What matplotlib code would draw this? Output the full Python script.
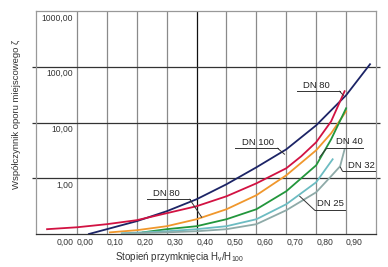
import matplotlib
matplotlib.use("Agg")
import matplotlib.pyplot as plt
import matplotlib.transforms as mtransforms

plt.rcParams['font.family'] = ['Liberation Sans', 'DejaVu Sans']
plt.rcParams['mathtext.default'] = 'regular'

# ---- data ----
dn100_x = [0.04, 0.10, 0.20, 0.30, 0.40, 0.50, 0.60, 0.70, 0.80, 0.90, 0.98]
dn100_y = [0.10, 0.122, 0.17, 0.256, 0.42, 0.78, 1.57, 3.3, 8.9, 30.8, 111]

dn80_x = [-0.10, 0.0, 0.10, 0.20, 0.30, 0.40, 0.50, 0.60, 0.70, 0.75, 0.80, 0.85, 0.895]
dn80_y = [0.122, 0.132, 0.150, 0.177, 0.236, 0.315, 0.475, 0.81, 1.51, 2.48, 4.43, 10.5, 36.4]

dn50_x = [0.11, 0.20, 0.30, 0.40, 0.50, 0.60, 0.70, 0.80, 0.85, 0.90]
dn50_y = [0.107, 0.117, 0.138, 0.184, 0.278, 0.496, 1.13, 3.18, 6.41, 15.9]

dn40_x = [0.22, 0.30, 0.40, 0.50, 0.60, 0.70, 0.80, 0.85, 0.90]
dn40_y = [0.107, 0.122, 0.138, 0.184, 0.278, 0.585, 1.71, 5.0, 18.0]

dn25_x = [0.15, 0.30, 0.40, 0.50, 0.60, 0.70, 0.80, 0.855]
dn25_y = [0.103, 0.112, 0.122, 0.138, 0.184, 0.342, 0.848, 2.19]

dn32_x = [0.15, 0.30, 0.40, 0.50, 0.60, 0.70, 0.80, 0.85, 0.88, 0.895]
dn32_y = [0.101, 0.107, 0.112, 0.122, 0.150, 0.267, 0.561, 1.09, 1.64, 3.31]

x_tick_pos = [-0.067, 0.0, 0.1, 0.2, 0.3, 0.4, 0.5, 0.6, 0.7, 0.8, 0.9]
x_tick_labels = ["0,00", "0,00", "0,10", "0,20", "0,30", "0,40", "0,50",
                 "0,60", "0,70", "0,80", "0,90"]
y_grid = [1, 10, 100]
y_label_vals = [1, 10, 100, 1000]
y_labels = ["1,00", "10,00", "100,00", "1000,00"]

# annotations: label, text pos, underline (x0, x1, y), leader end, leader side
annots = [
    ("DN 80", (0.801, 45.6), (0.735, 0.878, 36.4), (0.891, 30.8), 'r'),
    ("DN 100", (0.604, 4.43), (0.528, 0.671, 3.45), (0.694, 2.70), 'r'),
    ("DN 40", (0.912, 4.52), (0.835, 0.955, 3.45), (0.811, 2.38), 'l'),
    ("DN 32", (0.952, 1.71), (0.888, 0.998, 1.335), (0.881, 1.575), 'l'),
    ("DN 25", (0.848, 0.356), (0.795, 0.898, 0.267), (0.745, 0.475), 'l'),
    ("DN 80", (0.300, 0.538), (0.234, 0.377, 0.42), (0.417, 0.20), 'r'),
]

fig = plt.figure(figsize=(3.88, 2.67), dpi=100)
ax = fig.add_axes([36/388, 1 - 234/267, 340/388, 223/267])
ax.set_yscale('log')
ax.set_xlim(-0.137, 1.0)
ax.set_ylim(0.1, 1000)

# grid
for gx in [0.0, 0.1, 0.2, 0.3, 0.4, 0.5, 0.6, 0.7, 0.8, 0.9]:
    col = '#111111' if abs(gx - 0.4) < 1e-9 else '#8a8a8a'
    ax.axvline(gx, color=col, lw=0.9, zorder=1)
for gy in y_grid:
    ax.axhline(gy, color='#333333', lw=0.9, zorder=1)

lw = 1.3
ax.plot(dn100_x, dn100_y, color='#1c2466', lw=lw, zorder=3)
ax.plot(dn80_x, dn80_y, color='#d21242', lw=lw, zorder=3)
ax.plot(dn50_x, dn50_y, color='#f0972c', lw=lw, zorder=3)
ax.plot(dn40_x, dn40_y, color='#22963c', lw=lw, zorder=3)
ax.plot(dn25_x, dn25_y, color='#6cbcc2', lw=lw, zorder=3)
ax.plot(dn32_x, dn32_y, color='#8eaaa8', lw=lw, zorder=3)

# annotations
for lab, tpos, ul, lend, side in annots:
    ax.text(tpos[0], tpos[1], lab, ha='center', va='center', fontsize=6.8,
            color='#222222', zorder=5)
    ax.plot([ul[0], ul[1]], [ul[2], ul[2]], color='#333333', lw=0.7, zorder=4)
    start = ul[1] if side == 'r' else ul[0]
    ax.plot([start, lend[0]], [ul[2], lend[1]], color='#333333', lw=0.7, zorder=4)

# y labels inside plot
off = mtransforms.offset_copy(ax.transData, fig=fig, x=0, y=-7, units='dots')
for v, s in zip(y_label_vals, y_labels):
    ax.text(-0.012, v, s, ha='right', va='center', fontsize=6.2,
            color='#333333', transform=off)

# ticks
ax.set_xticks(x_tick_pos, x_tick_labels)
ax.tick_params(axis='x', length=0, pad=3, labelsize=6.2, labelcolor='#333333')
for t in ax.get_xticklabels():
    t.set_ha('left')
ax.set_yticks(y_grid, [])
ax.yaxis.set_minor_locator(matplotlib.ticker.NullLocator())
ax.tick_params(axis='y', which='major', length=3, width=0.9, color='#333333',
               left=True, right=True, direction='out')

for s in ['left', 'top', 'right']:
    ax.spines[s].set_color('#999999')
    ax.spines[s].set_linewidth(0.9)
ax.spines['bottom'].set_color('#333333')
ax.spines['bottom'].set_linewidth(0.9)

fig.text(180/388, 1 - 257/267,
         r"Stopień przymknięcia H$_\mathregular{v}$/H$_\mathregular{100}$",
         ha='center', va='center', fontsize=7.0, color='#333333')
fig.text(17/388, 1 - 114/267, "Współczynnik oporu miejscowego ζ",
         ha='center', va='center', rotation=90, fontsize=6.8, color='#333333')

fig.savefig('out.png', dpi=100)
